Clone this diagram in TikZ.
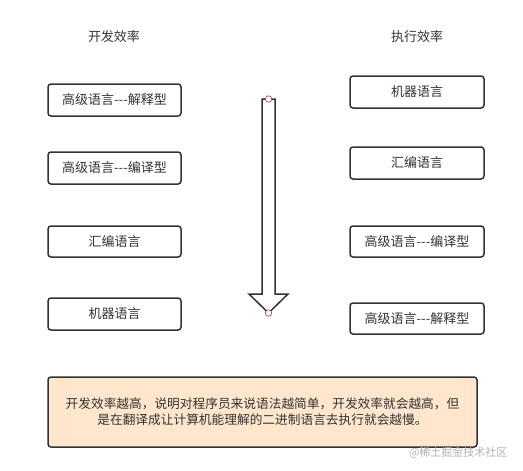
\documentclass[tikz,border=0pt]{standalone}
\usepackage{fontspec}
\setmainfont{Noto Sans CJK SC}
\begin{document}
\begin{tikzpicture}[x=1pt,y=-1pt,
  txt/.style={text=black!80, font=\fontsize{13}{15}\selectfont},
  lbox/.style={draw=black!80, line width=1.5pt, rounded corners=3pt, fill=white, txt, inner sep=0pt}]
\useasboundingbox (0,0) rectangle (523,471);
\fill[white] (0,0) rectangle (523,471);
% titles
\node[txt] (t1) at (114,37) {开发效率};
\node[txt] (t2) at (417,37) {执行效率};
% left boxes
\node[lbox, minimum width=133pt, minimum height=32pt] (l1) at (114.5,100) {高级语言-{}-{}-解释型};
\node[lbox, minimum width=133pt, minimum height=32pt] (l2) at (114.5,168) {高级语言-{}-{}-编译型};
\node[lbox, minimum width=133pt, minimum height=31pt] (l3) at (114.5,241.5) {汇编语言};
\node[lbox, minimum width=133pt, minimum height=32pt] (l4) at (114.5,314) {机器语言};
% right boxes
\node[lbox, minimum width=134pt, minimum height=32pt] (r1) at (417,92) {机器语言};
\node[lbox, minimum width=134pt, minimum height=32pt] (r2) at (417,163) {汇编语言};
\node[lbox, minimum width=134pt, minimum height=31pt] (r3) at (417,241.5) {高级语言-{}-{}-编译型};
\node[lbox, minimum width=134pt, minimum height=31pt] (r4) at (417,318.5) {高级语言-{}-{}-解释型};
% arrow
\coordinate (atop) at (268.5,99);
\coordinate (atip) at (268.5,313);
\draw[draw=black!80, line width=1.5pt, fill=white, line join=miter]
  (262,99) -- (275,99) -- (275,294) -- (288,294) -- (atip) -- (249,294) -- (262,294) -- cycle;
\draw[draw=red!50!black!80, line width=0.6pt, fill=white] (atop) circle (3.2pt);
\draw[draw=red!50!black!80, line width=0.6pt, fill=white] (atip) circle (3.2pt);
% bottom note
\node[draw=black!80, line width=1.5pt, rounded corners=3pt, fill={rgb,255:red,255;green,230;blue,204},
  minimum width=429pt, minimum height=70pt, inner sep=0pt] (note) at (262.5,412) {};
\node[txt, align=center, font=\fontsize{12.7}{16}\selectfont] (notetext) at (note.center)
  {开发效率越高，说明对程序员来说语法越简单，开发效率就会越高，但\\是在翻译成让计算机能理解的二进制语言去执行就会越慢。};
% watermark
\node[text=black!30, font=\fontsize{11}{12}\selectfont, anchor=east] (wm) at (511,453) {@稀土掘金技术社区};
\end{tikzpicture}
\end{document}
